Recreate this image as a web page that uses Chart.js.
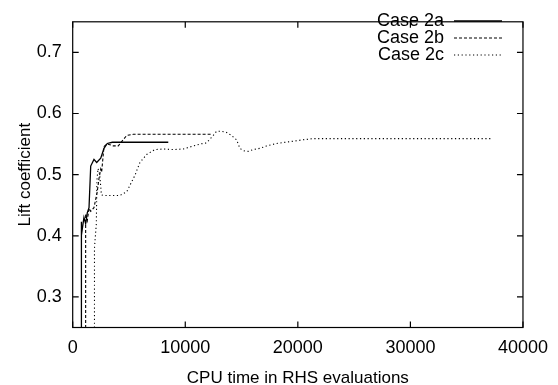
<!DOCTYPE html>
<html>
<head>
<meta charset="utf-8">
<script src="https://cdn.jsdelivr.net/npm/chart.js@4.4.1/dist/chart.umd.min.js"></script>
<style>
  html, body { margin: 0; padding: 0; background: #fff; }
  #wrap { width: 558px; height: 385px; }
</style>
</head>
<body>
<div id="wrap"><canvas id="c" width="558" height="385"></canvas></div>
<script>
const xTicks = [0, 10000, 20000, 30000, 40000];
const yTicks = [0.3, 0.4, 0.5, 0.6, 0.7];
const seriesLabels = ['Case 2a', 'Case 2b', 'Case 2c'];
const xTitle = 'CPU time in RHS evaluations';
const yTitle = 'Lift coefficient';

const case2aX = [740, 740, 810, 1000, 1150, 1300, 1450, 1600, 1890, 2130, 2490, 2780, 3070, 3520, 8490];
const case2aY = [0.20, 0.423, 0.401, 0.430, 0.420, 0.438, 0.446, 0.514, 0.525, 0.520, 0.527, 0.543, 0.551, 0.553, 0.553];

const case2bX = [1150, 1150, 1300, 1450, 1600, 1890, 2180, 2330, 2490, 2570, 2780, 3020, 3300, 3600, 4050, 4350, 4790, 5380, 12400];
const case2bY = [0.20, 0.436, 0.425, 0.445, 0.440, 0.446, 0.472, 0.493, 0.509, 0.504, 0.546, 0.550, 0.549, 0.547, 0.547, 0.554, 0.564, 0.566, 0.566];

const case2cX = [1935, 1935, 2100, 2150, 2250, 2400, 2550, 2700, 4200, 4800, 5530, 5974, 6570, 7300, 8040, 8930, 9820, 10560, 11300, 11895, 12480, 12780, 13230, 13670, 14110, 14560, 14850, 15210, 15590, 16030, 16630, 17220, 18110, 19290, 20470, 21360, 23440, 37300];
const case2cY = [0.20, 0.38, 0.42, 0.49, 0.51, 0.50, 0.467, 0.466, 0.466, 0.472, 0.499, 0.520, 0.533, 0.541, 0.542, 0.541, 0.542, 0.546, 0.550, 0.552, 0.564, 0.571, 0.571, 0.569, 0.564, 0.557, 0.543, 0.539, 0.538, 0.541, 0.543, 0.547, 0.551, 0.554, 0.557, 0.559, 0.559, 0.559];

function pts(xs, ys) { return xs.map((x, i) => ({ x: x, y: ys[i] })); }

const FONT = 'Liberation Sans, Arial, Helvetica, sans-serif';

const framePlugin = {
  id: 'frame',
  afterDatasetsDraw(chart) {
    const { ctx, chartArea: a, scales } = chart;
    ctx.save();
    ctx.strokeStyle = '#000';
    ctx.lineWidth = 1.2;
    ctx.strokeRect(a.left, a.top, a.right - a.left, a.bottom - a.top);
    const tl = 6;
    ctx.beginPath();
    xTicks.forEach(v => {
      const px = scales.x.getPixelForValue(v);
      ctx.moveTo(px, a.bottom); ctx.lineTo(px, a.bottom - tl);
      ctx.moveTo(px, a.top); ctx.lineTo(px, a.top + tl);
    });
    yTicks.forEach(v => {
      const py = scales.y.getPixelForValue(v);
      ctx.moveTo(a.left, py); ctx.lineTo(a.left + tl, py);
      ctx.moveTo(a.right, py); ctx.lineTo(a.right - tl, py);
    });
    ctx.stroke();

    // gnuplot-style key
    const rows = [21, 38, 55];
    ctx.font = '18px ' + FONT;
    ctx.fillStyle = '#000';
    ctx.textAlign = 'right';
    ctx.textBaseline = 'middle';
    chart.data.datasets.forEach((ds, i) => {
      ctx.fillText(ds.label, 444, rows[i]);
      ctx.save();
      ctx.strokeStyle = ds.borderColor;
      ctx.lineWidth = ds.borderWidth;
      ctx.setLineDash(ds.borderDash || []);
      ctx.beginPath();
      ctx.moveTo(454, rows[i]); ctx.lineTo(502, rows[i]);
      ctx.stroke();
      ctx.restore();
    });
    ctx.restore();
  }
};

new Chart(document.getElementById('c'), {
  type: 'line',
  data: {
    datasets: [
      { label: seriesLabels[0], data: pts(case2aX, case2aY), borderColor: '#000', borderWidth: 1.3, borderDash: [], pointRadius: 0, tension: 0, fill: false, clip: 0 },
      { label: seriesLabels[1], data: pts(case2bX, case2bY), borderColor: '#000', borderWidth: 1.1, borderDash: [3, 2], pointRadius: 0, tension: 0, fill: false, clip: 0 },
      { label: seriesLabels[2], data: pts(case2cX, case2cY), borderColor: '#000', borderWidth: 1.1, borderDash: [1.2, 2.6], pointRadius: 0, tension: 0, fill: false, clip: 0 }
    ]
  },
  options: {
    responsive: false,
    animation: false,
    devicePixelRatio: 1,
    layout: { padding: { top: 10.7, right: 34.7, left: 0, bottom: 0 } },
    plugins: { legend: { display: false }, tooltip: { enabled: false } },
    scales: {
      x: {
        type: 'linear', min: 0, max: 40000,
        afterBuildTicks: s => { s.ticks = xTicks.map(v => ({ value: v })); },
        afterFit: s => { s.height = 57.5; },
        grid: { display: false, drawTicks: false },
        border: { display: false },
        ticks: { color: '#000', font: { family: FONT, size: 18 }, padding: 10, maxRotation: 0, autoSkip: false, callback: v => String(v) },
        title: { display: true, text: xTitle, color: '#000', font: { family: FONT, size: 17 }, padding: { top: 0, bottom: -4 } }
      },
      y: {
        type: 'linear', min: 0.25, max: 0.75,
        afterBuildTicks: s => { s.ticks = yTicks.map(v => ({ value: v })); },
        afterFit: s => { s.width = 72.7; },
        grid: { display: false, drawTicks: false },
        border: { display: false },
        ticks: { color: '#000', font: { family: FONT, size: 18 }, padding: 11, autoSkip: false, callback: v => v.toFixed(1) },
        title: { display: true, text: yTitle, color: '#000', font: { family: FONT, size: 17 }, padding: { top: 15, bottom: 0 } }
      }
    }
  },
  plugins: [framePlugin]
});
</script>
</body>
</html>
